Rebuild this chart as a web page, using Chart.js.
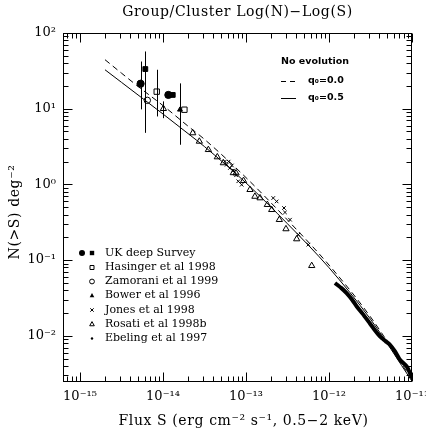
<!DOCTYPE html>
<html><head><meta charset="utf-8">
<script src="https://cdn.jsdelivr.net/npm/chart.js@4.4.1/dist/chart.umd.min.js"></script>
<style>html,body{margin:0;padding:0;background:#fff;}#wrap{width:426px;height:430px;position:relative;}</style>
</head><body><div id="wrap"><canvas id="c" width="426" height="430"></canvas></div>
<script>
// ---------------- data ----------------
const TITLE = 'Group/Cluster Log(N)\u2212Log(S)';
const X_TITLE = 'Flux S (erg cm\u207B\u00B2 s\u207B\u00B9, 0.5\u22122 keV)';
const Y_TITLE = 'N(>S) deg\u207B\u00B2';

const xMajorTicks = [1e-15, 1e-14, 1e-13, 1e-12, 1e-11];
const xTickLabels = ['10\u207B\u00B9\u2075', '10\u207B\u00B9\u2074', '10\u207B\u00B9\u00B3', '10\u207B\u00B9\u00B2', '10\u207B\u00B9\u00B9'];
const yMajorTicks = [1e-2, 1e-1, 1, 10, 100];
const yTickLabels = ['10\u207B\u00B2', '10\u207B\u00B9', '10\u2070', '10\u00B9', '10\u00B2'];

// model curves
const modelS      = [2.0e-15, 3.16e-15, 5.0e-15, 1.0e-14, 2.0e-14, 3.16e-14, 1.0e-13, 3.16e-13, 1.0e-12, 3.16e-12, 1.0e-11];
const modelN_q00  = [44.4, 29.5, 19.7, 11.0, 5.89, 3.94, 1.23, 0.339, 0.0861, 0.0178, 0.00263];
const modelN_q05  = [32.7, 22.3, 15.2, 8.51, 4.70, 3.16, 1.047, 0.302, 0.0794, 0.0166, 0.00251];

// UK deep survey
const ukCircS = [5.37e-15, 1.16e-14];
const ukCircN = [21.4, 15.2];
const ukCircErr = [[9.8, 42], null];
const ukSqS = [6.12e-15, 1.31e-14];
const ukSqN = [33.4, 15.2];
const ukSqErr = [[4.8, 57], null];
// Hasinger et al 1998
const hasS = [8.4e-15, 1.81e-14];
const hasN = [16.8, 9.7];
const hasErr = [[7.9, 32.7], null];
// Zamorani et al 1999
const zamS = [6.47e-15];
const zamN = [12.9];
// Bower et al 1996
const bowS = [1.6e-14];
const bowN = [9.7];
const bowErr = [[3.34, 21.6]];
// Jones et al 1998
const jonS = [5.58e-14, 5.85e-14, 6.17e-14, 6.41e-14, 6.76e-14, 7.03e-14, 7.59e-14, 8.07e-14, 8.87e-14, 2.13e-13, 2.34e-13, 2.87e-13, 2.95e-13, 3.39e-13, 4.27e-13, 5.64e-13];
const jonN = [2.01, 1.82, 2.0, 1.65, 1.78, 1.53, 1.32, 1.10, 0.99, 0.661, 0.596, 0.488, 0.427, 0.342, 0.217, 0.160];
// Rosati et al 1998b
const rosS = [1.01e-14, 2.28e-14, 2.74e-14, 3.52e-14, 4.51e-14, 5.33e-14, 7.03e-14, 7.59e-14, 9.33e-14, 1.117e-13, 1.28e-13, 1.476e-13, 1.807e-13, 2.04e-13, 2.52e-13, 3.03e-13, 4.08e-13, 6.19e-13];
const rosN = [10.0, 4.78, 3.70, 2.87, 2.30, 1.92, 1.42, 1.41, 1.12, 0.851, 0.693, 0.661, 0.540, 0.463, 0.342, 0.258, 0.190, 0.0843];
const rosErr = [[7.5, 12.5]];
// Ebeling et al 1997
const ebeS = [1.18e-12, 1.4e-12, 1.63e-12, 1.9e-12, 2.16e-12, 2.55e-12, 2.98e-12, 3.5e-12, 4.11e-12, 4.8e-12, 5.43e-12, 6.24e-12, 7.16e-12, 8.63e-12, 1.0e-11];
const ebeN = [0.0498, 0.0430, 0.0367, 0.0300, 0.0244, 0.0195, 0.0155, 0.0122, 0.0098, 0.0085, 0.00762, 0.00622, 0.00483, 0.00394, 0.0028];

// ---------------- build ----------------
const pts = (S, N) => S.map((s, i) => ({x: s, y: N[i]}));
const isDecade = v => Math.abs(Math.log10(v) - Math.round(Math.log10(v))) < 1e-6;
function allTicks(lo, hi) {
  const out = [];
  for (let e = Math.floor(Math.log10(lo)); e <= Math.ceil(Math.log10(hi)); e++) {
    for (let m = 1; m <= 9; m++) {
      const v = m * Math.pow(10, e);
      if (v >= lo * 0.9999 && v <= hi * 1.0001) out.push(v);
    }
  }
  return out;
}
const XMIN = Math.pow(10, -15.205), XMAX = 1e-11;
const YMIN = Math.pow(10, -2.61), YMAX = 100;
const xTicksAll = allTicks(XMIN, XMAX);
const yTicksAll = allTicks(YMIN, YMAX);
function labelFor(v, majors, labels) {
  for (let i = 0; i < majors.length; i++) if (Math.abs(Math.log10(v) - Math.log10(majors[i])) < 1e-6) return labels[i];
  return '';
}

const SERIF = '"DejaVu Serif", "Liberation Serif", serif';
const SANS = '"DejaVu Sans", "Liberation Sans", sans-serif';

const sym = (extra) => Object.assign({showLine: false, borderColor: '#000', borderWidth: 1, backgroundColor: '#000'}, extra);

const datasets = [
  {label: 'q0=0.0', data: pts(modelS, modelN_q00), showLine: true, borderColor: '#000', borderWidth: 1, borderDash: [6, 4], pointRadius: 0, cubicInterpolationMode: 'monotone', fill: false},
  {label: 'q0=0.5', data: pts(modelS, modelN_q05), showLine: true, borderColor: '#000', borderWidth: 1, pointRadius: 0, cubicInterpolationMode: 'monotone', fill: false},
  {label: 'Ebeling', data: pts(ebeS, ebeN), showLine: true, borderColor: '#000', borderWidth: 4, pointRadius: 0, tension: 0.2, fill: false},
  sym({label: 'UKc', data: pts(ukCircS, ukCircN), err: ukCircErr, pointStyle: 'circle', pointRadius: 3.6}),
  sym({label: 'UKs', data: pts(ukSqS, ukSqN), err: ukSqErr, pointStyle: 'rect', pointRadius: 3.4}),
  sym({label: 'Has', data: pts(hasS, hasN), err: hasErr, pointStyle: 'rect', pointRadius: 3.8, backgroundColor: 'rgba(0,0,0,0)'}),
  sym({label: 'Zam', data: pts(zamS, zamN), pointStyle: 'circle', pointRadius: 3.2, backgroundColor: 'rgba(0,0,0,0)'}),
  sym({label: 'Bow', data: pts(bowS, bowN), err: bowErr, pointStyle: 'triangle', pointRadius: 2.8}),
  sym({label: 'Jon', data: pts(jonS, jonN), pointStyle: 'crossRot', pointRadius: 2.5}),
  sym({label: 'Ros', data: pts(rosS, rosN), err: rosErr, pointStyle: 'triangle', pointRadius: 3.6, backgroundColor: 'rgba(0,0,0,0)'}),
];

const errPlugin = {
  id: 'errBars',
  beforeDatasetsDraw(chart) {
    const {ctx, scales: {x, y}} = chart;
    ctx.save(); ctx.strokeStyle = '#000'; ctx.lineWidth = 1;
    chart.data.datasets.forEach(ds => {
      if (!ds.err) return;
      ds.err.forEach((e, i) => {
        if (!e) return;
        const px = Math.round(x.getPixelForValue(ds.data[i].x)) + 0.5;
        ctx.beginPath();
        ctx.moveTo(px, y.getPixelForValue(e[0]));
        ctx.lineTo(px, y.getPixelForValue(e[1]));
        ctx.stroke();
      });
    });
    ctx.restore();
  }
};

function drawSym(ctx, type, cx, cy, r, filled) {
  ctx.beginPath();
  if (type === 'circle') ctx.arc(cx, cy, r, 0, Math.PI * 2);
  else if (type === 'rect') ctx.rect(cx - r, cy - r, 2 * r, 2 * r);
  else if (type === 'tri') { ctx.moveTo(cx, cy - r * 1.1); ctx.lineTo(cx + r * 1.05, cy + r * 0.8); ctx.lineTo(cx - r * 1.05, cy + r * 0.8); ctx.closePath(); }
  else if (type === 'x') { ctx.moveTo(cx - r, cy - r); ctx.lineTo(cx + r, cy + r); ctx.moveTo(cx + r, cy - r); ctx.lineTo(cx - r, cy + r); ctx.stroke(); return; }
  if (filled) ctx.fill(); else ctx.stroke();
}

const frameLegendPlugin = {
  id: 'frameLegend',
  afterDraw(chart) {
    const {ctx, chartArea: a, scales: {x, y}} = chart;
    ctx.save();
    ctx.strokeStyle = '#000'; ctx.fillStyle = '#000'; ctx.lineWidth = 1;
    const L = Math.round(a.left) + 0.5, R = Math.round(a.right) - 0.5, T = Math.round(a.top) + 0.5, B = Math.round(a.bottom) - 0.5;
    ctx.strokeRect(L, T, R - L, B - T);
    ctx.beginPath();
    xTicksAll.forEach(v => {
      const px = Math.round(x.getPixelForValue(v)) + 0.5;
      const len = isDecade(v) ? 9 : 5;
      ctx.moveTo(px, B); ctx.lineTo(px, B - len);
      ctx.moveTo(px, T); ctx.lineTo(px, T + len);
    });
    yTicksAll.forEach(v => {
      const py = Math.round(y.getPixelForValue(v)) + 0.5;
      const len = isDecade(v) ? 9 : 5;
      ctx.moveTo(L, py); ctx.lineTo(L + len, py);
      ctx.moveTo(R, py); ctx.lineTo(R - len, py);
    });
    ctx.stroke();

    // titles
    ctx.textBaseline = 'middle'; ctx.textAlign = 'center';
    ctx.font = '14px ' + SERIF;
    try { ctx.letterSpacing = '0.6px'; } catch (e) {}
    ctx.fillText(TITLE, (a.left + a.right) / 2, 12);
    ctx.fillText(X_TITLE, (a.left + a.right) / 2 + 6, 421);
    ctx.save(); ctx.translate(15, 212); ctx.rotate(-Math.PI / 2); ctx.fillText(Y_TITLE, 0, 0); ctx.restore();
    try { ctx.letterSpacing = '0px'; } catch (e) {}

    // top-right legend
    ctx.textAlign = 'left';
    ctx.font = 'bold 9.5px ' + SANS;
    ctx.fillText('No evolution', 281, 62);
    ctx.fillText('q\u2080=0.0', 308, 81);
    ctx.fillText('q\u2080=0.5', 308, 98);
    ctx.beginPath(); ctx.setLineDash([5, 4]); ctx.moveTo(281, 81.5); ctx.lineTo(296, 81.5); ctx.stroke();
    ctx.setLineDash([]); ctx.beginPath(); ctx.moveTo(281, 98.5); ctx.lineTo(296, 98.5); ctx.stroke();

    // bottom-left legend
    const rows = [
      ['UK deep Survey', 253], ['Hasinger et al 1998', 267.5], ['Zamorani et al 1999', 281.5],
      ['Bower et al 1996', 295.5], ['Jones et al 1998', 310], ['Rosati et al 1998b', 324], ['Ebeling et al 1997', 338.5]
    ];
    ctx.font = '11px ' + SERIF;
    rows.forEach(r => ctx.fillText(r[0], 105, r[1]));
    const sx = 92;
    drawSym(ctx, 'circle', 82, 253, 3, true);
    drawSym(ctx, 'rect', sx, 253, 2.2, true);
    drawSym(ctx, 'rect', sx, 267.5, 2, false);
    drawSym(ctx, 'circle', sx, 281.5, 2.4, false);
    drawSym(ctx, 'tri', sx, 295.5, 2.2, true);
    drawSym(ctx, 'x', sx, 310, 1.7, false);
    drawSym(ctx, 'tri', sx, 324, 2.2, false);
    drawSym(ctx, 'circle', sx, 338.5, 1.2, true);
    ctx.restore();
  }
};

const noPad = s => { s.paddingLeft = 0; s.paddingRight = 0; s.paddingTop = 0; s.paddingBottom = 0; };

new Chart(document.getElementById('c'), {
  type: 'scatter',
  data: {datasets},
  options: {
    responsive: false, animation: false,
    layout: {padding: {top: 33, right: 14, left: 0, bottom: 0}},
    plugins: {legend: {display: false}, tooltip: {enabled: false}, title: {display: false}},
    scales: {
      x: {
        type: 'logarithmic', min: XMIN, max: XMAX,
        grid: {display: false, drawTicks: false}, border: {display: false},
        afterBuildTicks: s => { s.ticks = xTicksAll.map(v => ({value: v})); },
        afterFit: s => { s.height = 48; noPad(s); },
        ticks: {autoSkip: false, maxRotation: 0, padding: 7, color: '#000', font: {family: SERIF, size: 13},
          callback: v => labelFor(v, xMajorTicks, xTickLabels)}
      },
      y: {
        type: 'logarithmic', min: YMIN, max: YMAX,
        grid: {display: false, drawTicks: false}, border: {display: false},
        afterBuildTicks: s => { s.ticks = yTicksAll.map(v => ({value: v})); },
        afterFit: s => { s.width = 63; noPad(s); },
        ticks: {autoSkip: false, padding: 7, color: '#000', font: {family: SERIF, size: 13},
          callback: v => labelFor(v, yMajorTicks, yTickLabels)}
      }
    }
  },
  plugins: [errPlugin, frameLegendPlugin]
});
</script></body></html>
